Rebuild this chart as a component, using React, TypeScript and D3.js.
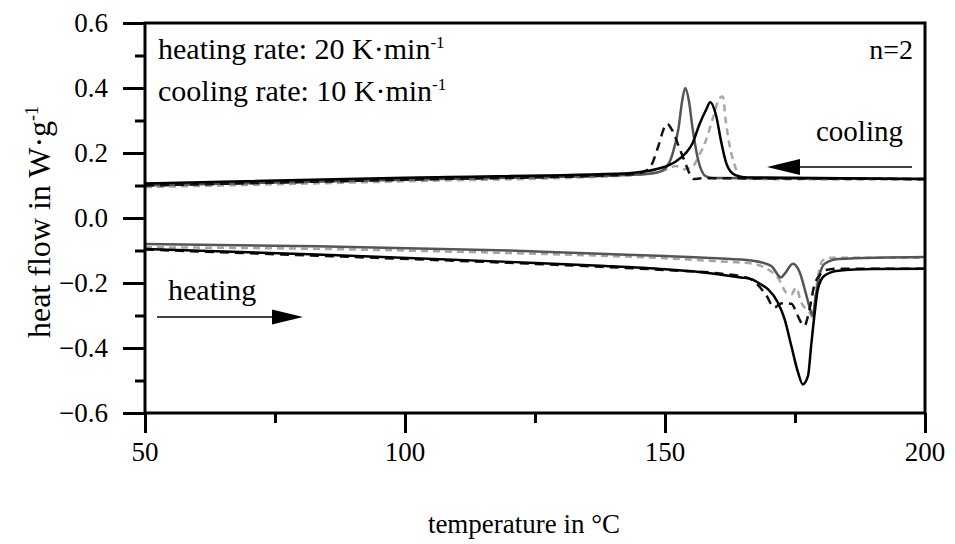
import * as d3 from 'd3';
import React, { useEffect, useRef } from 'react';

// DSC curves, temperature in °C, heat flow in W/g (exo up)
// cooling, black solid
const coolBlackT = [50, 100, 143, 146, 149, 152, 154, 155.3, 156.6, 157.9, 158.7, 159.8, 160.8, 161.7, 163, 164.3, 166, 200];
const coolBlackV = [0.106, 0.124, 0.138, 0.143, 0.153, 0.173, 0.2, 0.23, 0.287, 0.333, 0.356, 0.317, 0.235, 0.173, 0.137, 0.128, 0.125, 0.12];
// cooling, dark grey solid
const coolGreyT = [50, 100, 145, 148.5, 150.1, 151.4, 152.6, 153.3, 153.9, 154.6, 155.3, 156.3, 157.9, 159.5, 200];
const coolGreyV = [0.1, 0.118, 0.134, 0.14, 0.153, 0.194, 0.276, 0.36, 0.4, 0.36, 0.276, 0.184, 0.128, 0.123, 0.12];
// cooling, black dashed
const coolBlackDashT = [50, 100, 143, 145.5, 147.2, 148.8, 149.8, 150.4, 151.2, 152.9, 154, 154.8, 155.5, 157, 200];
const coolBlackDashV = [0.1, 0.118, 0.134, 0.14, 0.158, 0.225, 0.276, 0.29, 0.275, 0.21, 0.165, 0.134, 0.12, 0.122, 0.12];
// cooling, light grey dashed
const coolLightT = [50, 100, 143, 148, 150.5, 152.1, 153.5, 155.3, 156.6, 157.9, 159.2, 160.5, 161.1, 161.7, 162.4, 163.4, 164.3, 166, 200];
const coolLightV = [0.095, 0.113, 0.131, 0.14, 0.15, 0.16, 0.15, 0.158, 0.194, 0.24, 0.307, 0.369, 0.374, 0.297, 0.225, 0.163, 0.127, 0.12, 0.118];

// heating, black solid
const heatBlackT = [50, 83, 120, 137.6, 150, 156.9, 164.6, 166.6, 168.5, 169.8, 171.7, 173, 174.3, 175.6, 176.5, 177.5, 178.1, 178.8, 179.4, 180.7, 183.3, 190, 200];
const heatBlackV = [-0.095, -0.112, -0.135, -0.147, -0.158, -0.167, -0.183, -0.188, -0.205, -0.219, -0.26, -0.311, -0.394, -0.476, -0.512, -0.486, -0.394, -0.29, -0.219, -0.177, -0.162, -0.157, -0.156];
// heating, dark grey solid
const heatGreyT = [50, 83, 120, 137.6, 150, 160, 166.6, 170.4, 172.3, 173, 174.6, 175.9, 177.2, 178.1, 178.4, 179, 179.7, 180.7, 183.3, 200];
const heatGreyV = [-0.08, -0.087, -0.1, -0.11, -0.117, -0.124, -0.131, -0.147, -0.183, -0.172, -0.141, -0.167, -0.239, -0.29, -0.3, -0.239, -0.177, -0.141, -0.126, -0.12];
// heating, black dashed
const heatBlackDashT = [50, 83, 120, 137.6, 150, 160, 166, 169.4, 171, 172.5, 174.3, 175.5, 176.2, 176.8, 177.8, 178.7, 179.7, 181, 183, 200];
const heatBlackDashV = [-0.097, -0.116, -0.138, -0.15, -0.16, -0.17, -0.185, -0.236, -0.275, -0.262, -0.264, -0.3, -0.322, -0.332, -0.28, -0.208, -0.177, -0.16, -0.156, -0.156];
// heating, light grey dashed
const heatLightT = [50, 83, 120, 137.6, 150, 160, 166.6, 170, 171.7, 173.3, 174.3, 175.2, 176.2, 177.8, 178.4, 179, 179.7, 180.3, 182, 200];
const heatLightV = [-0.09, -0.095, -0.108, -0.116, -0.124, -0.133, -0.14, -0.16, -0.183, -0.229, -0.235, -0.215, -0.26, -0.29, -0.306, -0.229, -0.157, -0.131, -0.122, -0.122];

const xMajor = [50, 100, 150, 200];
const xMinor = [75, 125, 175];
const yMajor = [-0.6, -0.4, -0.2, 0.0, 0.2, 0.4, 0.6];
const yMinor = [-0.5, -0.3, -0.1, 0.1, 0.3, 0.5];

const W = 955;
const H = 544;
const FONT = '"Liberation Serif", "Times New Roman", serif';

export default function App() {
    const ref = useRef<SVGSVGElement>(null);

    useEffect(() => {
        document.body.style.margin = '0';
        document.body.style.overflow = 'hidden';
        const svg = d3.select(ref.current);
        svg.selectAll('*').remove();

        const x = d3.scaleLinear().domain([50, 200]).range([145, 925]);
        const y = d3.scaleLinear().domain([-0.6, 0.6]).range([413, 23]);

        const series = [
            { t: coolLightT, v: coolLightV, color: '#a6a6a6', dash: '7,5' },
            { t: heatLightT, v: heatLightV, color: '#a6a6a6', dash: '7,5' },
            { t: coolGreyT, v: coolGreyV, color: '#555', dash: null },
            { t: heatGreyT, v: heatGreyV, color: '#555', dash: null },
            { t: coolBlackDashT, v: coolBlackDashV, color: '#111', dash: '9,6' },
            { t: heatBlackDashT, v: heatBlackDashV, color: '#111', dash: '9,6' },
            { t: coolBlackT, v: coolBlackV, color: '#000', dash: null },
            { t: heatBlackT, v: heatBlackV, color: '#000', dash: null },
        ];

        const line = d3.line<[number, number]>()
            .x((d) => x(d[0]))
            .y((d) => y(d[1]))
            .curve(d3.curveMonotoneX);

        svg.append('defs').append('clipPath').attr('id', 'plotclip')
            .append('rect')
            .attr('x', x(50)).attr('y', y(0.6))
            .attr('width', x(200) - x(50)).attr('height', y(-0.6) - y(0.6));

        const curves = svg.append('g').attr('clip-path', 'url(#plotclip)');
        series.forEach((s) => {
            const pts = s.t.map((t, i) => [t, s.v[i]] as [number, number]);
            curves.append('path')
                .attr('d', line(pts))
                .attr('fill', 'none')
                .attr('stroke', s.color)
                .attr('stroke-width', 2.5)
                .attr('stroke-dasharray', s.dash)
                .attr('stroke-linejoin', 'round');
        });

        // axes: tick marks from d3, labels drawn below
        const styleAxis = (g) => {
            g.select('.domain').remove();
            g.selectAll('line').attr('stroke', '#000').attr('stroke-width', 3);
            g.selectAll('text').remove();
        };

        svg.append('g')
            .attr('transform', `translate(0,${y(-0.6)})`)
            .call(d3.axisBottom(x).tickValues(xMajor).tickSize(20))
            .call(styleAxis);
        svg.append('g')
            .attr('transform', `translate(0,${y(-0.6)})`)
            .call(d3.axisBottom(x).tickValues(xMinor).tickSize(10))
            .call(styleAxis);
        svg.append('g')
            .attr('transform', `translate(${x(50)},0)`)
            .call(d3.axisLeft(y).tickValues(yMajor).tickSize(22))
            .call(styleAxis);
        svg.append('g')
            .attr('transform', `translate(${x(50)},0)`)
            .call(d3.axisLeft(y).tickValues(yMinor).tickSize(10))
            .call(styleAxis);

        // frame
        svg.append('rect')
            .attr('x', x(50)).attr('y', y(0.6))
            .attr('width', x(200) - x(50)).attr('height', y(-0.6) - y(0.6))
            .attr('fill', 'none')
            .attr('stroke', '#000')
            .attr('stroke-width', 3);

        const txt = (px, py, size, anchor = 'start') => svg.append('text')
            .attr('x', px).attr('y', py)
            .attr('text-anchor', anchor)
            .attr('fill', '#000')
            .style('font-family', FONT)
            .style('font-size', `${size}px`);

        // tick labels
        const fy = d3.format('.1f');
        xMajor.forEach((d) => txt(x(d), 461, 27, 'middle').text(d));
        yMajor.forEach((d) => txt(108, y(d) + 9, 27, 'end').text(fy(d)));

        // rate annotations
        const t1 = txt(158, 59, 30);
        t1.append('tspan').text('heating rate: 20 K·min');
        t1.append('tspan').attr('dy', -11).style('font-size', '17px').text('-1');
        const t2 = txt(158, 101, 30);
        t2.append('tspan').text('cooling rate: 10 K·min');
        t2.append('tspan').attr('dy', -11).style('font-size', '17px').text('-1');
        txt(913, 59, 28, 'end').text('n=2');

        // direction arrows
        txt(903, 141, 29, 'end').text('cooling');
        txt(168, 300, 30).text('heating');
        svg.append('line')
            .attr('x1', 912).attr('y1', 167).attr('x2', 790).attr('y2', 167)
            .attr('stroke', '#000').attr('stroke-width', 1.5);
        svg.append('path')
            .attr('d', 'M767,167 L800,159 L800,175 Z')
            .attr('fill', '#000');
        svg.append('line')
            .attr('x1', 157).attr('y1', 317).attr('x2', 280).attr('y2', 317)
            .attr('stroke', '#000').attr('stroke-width', 1.5);
        svg.append('path')
            .attr('d', 'M303,317 L272,309.5 L272,324.5 Z')
            .attr('fill', '#000');

        // axis titles
        txt(524, 533, 27, 'middle').text('temperature in °C');
        const yl = svg.append('text')
            .attr('transform', 'translate(50,222) rotate(-90)')
            .attr('text-anchor', 'middle')
            .attr('fill', '#000')
            .style('font-family', FONT)
            .style('font-size', '32px');
        yl.append('tspan').text('heat flow in W·g');
        yl.append('tspan').attr('dy', -12).style('font-size', '18px').text('-1');
    }, []);

    return <svg ref={ref} width={W} height={H} style={{ display: 'block', background: '#fff' }} />;
}
